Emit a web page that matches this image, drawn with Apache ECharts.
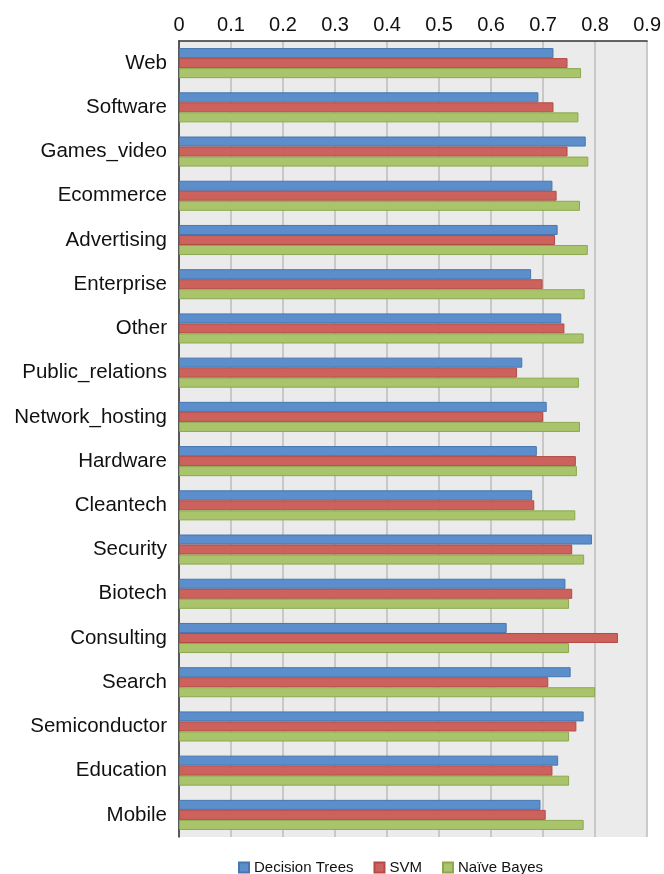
<!DOCTYPE html>
<html>
<head>
<meta charset="utf-8">
<script src="https://cdn.jsdelivr.net/npm/echarts@6/dist/echarts.min.js"></script>
<style>
  html, body { margin: 0; padding: 0; background: #ffffff; }
  #chart { width: 664px; height: 874px; }
</style>
</head>
<body>
<div id="chart"></div>
<script>
// Industry categories, top to bottom
const categories = [
  'Web', 'Software', 'Games_video', 'Ecommerce', 'Advertising', 'Enterprise',
  'Other', 'Public_relations', 'Network_hosting', 'Hardware', 'Cleantech',
  'Security', 'Biotech', 'Consulting', 'Search', 'Semiconductor', 'Education', 'Mobile'
];

// Classifier scores per category
const decisionTrees = [0.720, 0.691, 0.782, 0.718, 0.728, 0.677, 0.735, 0.660, 0.707,
  0.688, 0.679, 0.794, 0.743, 0.630, 0.753, 0.778, 0.729, 0.695];
const svm = [0.747, 0.720, 0.747, 0.726, 0.723, 0.699, 0.741, 0.650, 0.700,
  0.763, 0.683, 0.756, 0.756, 0.844, 0.710, 0.764, 0.718, 0.705];
const naiveBayes = [0.773, 0.768, 0.787, 0.771, 0.786, 0.780, 0.778, 0.769, 0.771,
  0.765, 0.762, 0.779, 0.750, 0.750, 0.800, 0.750, 0.750, 0.778];

// Value axis ticks
const axisMin = 0;
const axisMax = 0.9;
const axisStep = 0.1;

const seriesNames = ['Decision Trees', 'SVM', 'Naïve Bayes'];
const fills = ['#5b8ecb', '#cd625c', '#a9c46a'];
const borders = ['#4777b2', '#b14b46', '#8ca84f'];
const values = [decisionTrees, svm, naiveBayes];

const chart = echarts.init(document.getElementById('chart'), null, { renderer: 'canvas' });

chart.setOption({
  animation: false,
  textStyle: { fontFamily: 'Liberation Sans, Arial, sans-serif' },
  grid: {
    left: 179, right: 16, top: 41, bottom: 37,
    show: true, backgroundColor: '#ebebeb', borderWidth: 0
  },
  legend: {
    top: 855, left: 233,
    itemWidth: 10, itemHeight: 10, itemGap: 20,
    icon: 'rect',
    textStyle: { fontSize: 15, color: '#111' },
    data: seriesNames
  },
  xAxis: {
    type: 'value', position: 'top',
    min: axisMin, max: axisMax, interval: axisStep,
    axisLine: { show: true, lineStyle: { color: '#333', width: 1.5 } },
    axisTick: { show: false },
    splitLine: { show: true, lineStyle: { color: '#bcbcbc', width: 1.5 } },
    axisLabel: {
      fontSize: 20, color: '#111', margin: 6,
      formatter: v => String(Math.round(v * 10) / 10)
    }
  },
  yAxis: {
    type: 'category', inverse: true, data: categories,
    axisLine: { show: true, lineStyle: { color: '#333', width: 1.5 } },
    axisTick: { show: false },
    axisLabel: { fontSize: 20.5, color: '#111', margin: 12 }
  },
  series: seriesNames.map((name, i) => ({
    name, type: 'bar', data: values[i],
    barGap: '0%', barCategoryGap: '32%',
    itemStyle: { color: fills[i], borderColor: borders[i], borderWidth: 1 }
  }))
});
</script>
</body>
</html>
